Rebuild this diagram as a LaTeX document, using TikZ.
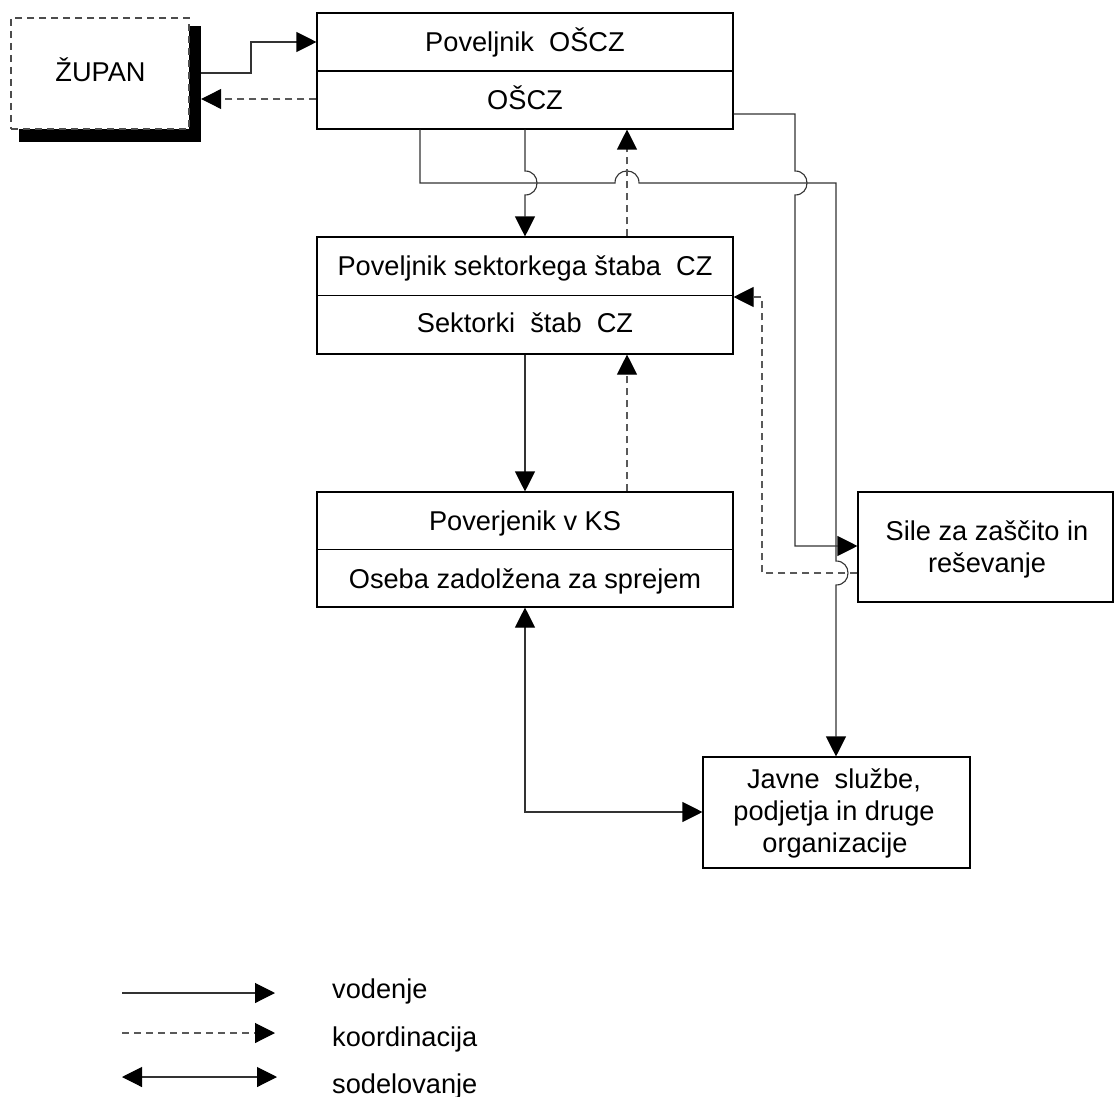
\documentclass[tikz,border=0pt]{standalone}
\usepackage{fontspec}
\setmainfont{Liberation Sans}
\usetikzlibrary{arrows.meta}
\begin{document}
\begin{tikzpicture}[x=1pt,y=-1pt,
  box/.style={draw, line width=1.1pt, inner sep=0pt, fill=white},
  lbl/.style={inner sep=0pt, anchor=base, font=\fontsize{27.2}{32}\selectfont},
  conn/.style={line width=1.1pt, draw=black!80, -{Triangle[length=20pt,width=20pt,color=black]}},
  dconn/.style={conn, draw=black!65, dash pattern=on 7pt off 5pt},
  dbl/.style={line width=1.1pt, draw=black!80, {Triangle[length=20pt,width=20pt,color=black]}-{Triangle[length=20pt,width=20pt,color=black]}}
]
\useasboundingbox (0,0) rectangle (1114,1097);

% ZUPAN with shadow
\node[fill=black, inner sep=0pt, minimum width=182pt, minimum height=116pt] (zsh) at (110,84) {};
\node[box, draw=black!70, dash pattern=on 7pt off 5pt, minimum width=178pt, minimum height=111pt] (zupan) at (100,73.5) {};
\node[lbl] (tz) at (100.5,82) {ŽUPAN};

% OSCZ
\node[box, minimum width=416pt, minimum height=116pt] (oscz) at (525,71) {};
\draw[line width=1.1pt] (oscz.west) -- (oscz.east);
\node[lbl] (t1) at (525,52) {Poveljnik\ \ OŠCZ};
\node[lbl] (t2) at (525,110) {OŠCZ};

% Sector
\node[box, minimum width=416pt, minimum height=117pt] (sector) at (525,295.5) {};
\draw[line width=1.1pt] (sector.west) -- (sector.east);
\node[lbl] (t3) at (525,275) {Poveljnik sektorkega štaba\ \ CZ};
\node[lbl] (t4) at (525,332) {Sektorki\ \ štab\ \ CZ};

% Poverjenik
\node[box, minimum width=416pt, minimum height=115pt] (pov) at (525,549.5) {};
\draw[line width=1.1pt] (pov.west) -- (pov.east);
\node[lbl] (t5) at (525,530) {Poverjenik v KS};
\node[lbl] (t6) at (525,588) {Oseba zadolžena za sprejem};

% Sile
\node[box, minimum width=255pt, minimum height=110pt] (sile) at (985.5,547) {};
\node[lbl] (t7) at (987,540) {Sile za zaščito in};
\node[lbl] (t8) at (987,572) {reševanje};

% Javne
\node[box, minimum width=267pt, minimum height=111pt] (javne) at (836.5,812.5) {};
\node[lbl] (t9) at (834,788) {Javne\ \ službe,};
\node[lbl] (t10) at (834,820) {podjetja in druge};
\node[lbl] (t11) at (835,852) {organizacije};

% coordinates
\coordinate (p1) at (251,73);
\coordinate (p2) at (251,42);
\coordinate (p3) at (0,99);
\coordinate (h1) at (420,183);
\coordinate (h2) at (836,183);
\coordinate (d1) at (627,0);
\coordinate (r1) at (795,114);
\coordinate (r2) at (795,546);
\coordinate (s1) at (762,573);
\coordinate (s2) at (762,297);
\coordinate (q1) at (525,812);

% ZUPAN <-> OSCZ
\draw[conn] (zsh.east |- p1) -- (p1) -- (p2) -- (oscz.west |- p2);
\draw[dconn] (oscz.west |- p3) -- (zsh.east |- p3);

% OSCZ -> Javne (long line with hops)
\draw[conn] (oscz.south -| h1) -- (h1) -- (615,183)
  .. controls (615,167) and (639,167) .. (639,183) -- (h2) -- (836,561)
  .. controls (852,561) and (852,585) .. (836,585) -- (javne.north -| h2);

% OSCZ -> sector
\draw[conn] (oscz.south) -- (525,171)
  .. controls (541,171) and (541,195) .. (525,195) -- (sector.north);
\draw[dconn] (sector.north -| d1) -- (oscz.south -| d1);

% OSCZ -> Sile
\draw[conn] (oscz.east |- r1) -- (r1) -- (795,171)
  .. controls (811,171) and (811,195) .. (795,195) -- (r2) -- (sile.west |- r2);

% Sile -> sector (koordinacija)
\draw[dconn] (sile.west |- s1) -- (s1) -- (s2) -- (sector.east |- s2);

% sector <-> poverjenik
\draw[conn] (sector.south) -- (pov.north);
\draw[dconn] (pov.north -| d1) -- (sector.south -| d1);

% poverjenik <-> javne
\draw[dbl] (pov.south) -- (q1) -- (javne.west |- q1);

% Legend
\coordinate (l1a) at (122,993);
\coordinate (l1b) at (275,993);
\coordinate (l2a) at (122,1033);
\coordinate (l2b) at (275,1033);
\coordinate (l3a) at (122,1077);
\coordinate (l3b) at (277,1077);
\draw[conn] (l1a) -- (l1b);
\draw[dconn] (l2a) -- (l2b);
\draw[dbl] (l3a) -- (l3b);
\node[lbl, anchor=base west] (g1) at (332,998) {vodenje};
\node[lbl, anchor=base west] (g2) at (332,1046) {koordinacija};
\node[lbl, anchor=base west] (g3) at (332,1093) {sodelovanje};
\end{tikzpicture}
\end{document}
